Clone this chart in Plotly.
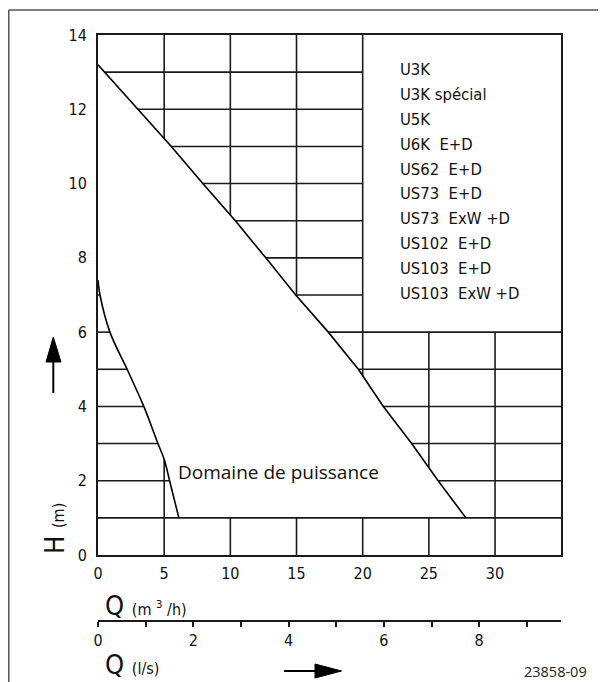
import numpy as np
import plotly.graph_objects as go

# ---------------- data ----------------
q_m3h_ticks = [0, 5, 10, 15, 20, 25, 30]
h_ticks = [0, 2, 4, 6, 8, 10, 12, 14]
q_ls_ticks = [0, 2, 4, 6, 8]

# left limit curve of the operating range (Q in m3/h, H in m)
left_q = [0, 0.15, 0.9, 2.2, 3.46, 4.53, 5.0, 5.41, 6.11]
left_h = [7.4, 7.0, 6.0, 5.0, 4.0, 3.0, 2.58, 2.0, 1.0]
# right limit line of the operating range
right_q = [0, 3.03, 5.54, 7.92, 10.38, 12.68, 14.94, 17.4, 19.67, 21.56, 23.7, 25.7, 27.8]
right_h = [13.2, 12, 11, 10, 9, 8, 7, 6, 5, 4, 3, 2, 1]

models = ["U3K", "U3K spécial", "U5K", "U6K  E+D", "US62  E+D", "US73  E+D",
          "US73  ExW +D", "US102  E+D", "US103  E+D", "US103  ExW +D"]

Q_MAX = 35
H_MAX = 14
H_MIN_RANGE = 1
M3H_PER_LS = 3.6
BOX_Q, BOX_H = 20, 6

# ---------------- geometry helpers ----------------
# the page body has an 8px margin: the figure starts at (8, 8) in the window
OFF = 8
W, H = 606 - OFF, 682 - OFF
def px(x):
    return (x - OFF) / W
def py(y):
    return 1 - (y - OFF) / H

def lq(h):
    return float(np.interp(h, left_h[::-1], left_q[::-1]))
def rq(h):
    return float(np.interp(h, right_h[::-1], right_q[::-1]))
def lh(q):
    return float(np.interp(q, left_q, left_h))
def rh(q):
    return float(np.interp(q, right_q, right_h))

gx, gy = [], []
def seg(x0, y0, x1, y1):
    gx.extend([x0, x1, None])
    gy.extend([y0, y1, None])

for h in range(1, H_MAX):
    if h == H_MIN_RANGE:
        seg(0, h, Q_MAX, h)
        continue
    if h <= max(left_h):
        seg(0, h, lq(h), h)
    end = Q_MAX if h <= BOX_H else BOX_Q
    seg(rq(h), h, end, h)

for q in range(5, Q_MAX, 5):
    top = H_MAX if q <= BOX_Q else BOX_H
    if q <= max(left_q):
        seg(q, 0, q, lh(q))
    elif q <= max(right_q):
        seg(q, 0, q, H_MIN_RANGE)
    if q <= max(right_q):
        seg(q, rh(q), q, top)
    else:
        seg(q, 0, q, top)

DIN = "'DejaVu Sans Condensed', 'Liberation Sans Narrow', sans-serif"
OPEN = "'Open Sans', 'Noto Sans', sans-serif"
INK = "#1a1a1a"

fig = go.Figure()
fig.add_trace(go.Scatter(x=gx, y=gy, mode="lines", line=dict(color=INK, width=1.6),
                         hoverinfo="skip", showlegend=False))
fig.add_trace(go.Scatter(x=left_q, y=left_h, mode="lines", line=dict(color="#000", width=1.6),
                         line_shape="spline", hoverinfo="skip", showlegend=False))
fig.add_trace(go.Scatter(x=right_q, y=right_h, mode="lines", line=dict(color="#000", width=1.6),
                         hoverinfo="skip", showlegend=False))
# invisible trace on the l/s axis
fig.add_trace(go.Scatter(x=[0, Q_MAX / M3H_PER_LS], y=[0, 0], xaxis="x2", mode="markers",
                         marker=dict(opacity=0), hoverinfo="skip", showlegend=False))

x0p, x1p = 98, 561.2
y0p, y1p = 555, 35

fig.update_layout(
    width=W, height=H, margin=dict(l=0, r=0, t=0, b=0, autoexpand=False),
    paper_bgcolor="white", plot_bgcolor="white", showlegend=False,
    xaxis=dict(domain=[px(x0p), px(x1p)], range=[0, Q_MAX], showgrid=False, zeroline=False,
               automargin=False,
               showline=True, mirror=True, linecolor=INK, linewidth=2,
               tickvals=q_m3h_ticks, ticks="outside", ticklen=3, tickcolor="rgba(0,0,0,0)",
               tickfont=dict(family=DIN, size=16, color="#111")),
    yaxis=dict(domain=[py(y0p), py(y1p)], range=[0, H_MAX], showgrid=False, zeroline=False,
               automargin=False,
               showline=True, mirror=True, linecolor=INK, linewidth=2,
               tickvals=h_ticks, ticks="outside", ticklen=6, tickcolor="rgba(0,0,0,0)",
               tickfont=dict(family=DIN, size=16, color="#111")),
    xaxis2=dict(overlaying="x", anchor="free", position=py(621), side="bottom",
                automargin=False,
                domain=[px(x0p), px(x1p)], range=[0, Q_MAX / M3H_PER_LS],
                showgrid=False, zeroline=False, showline=True, linecolor=INK, linewidth=2,
                tickvals=q_ls_ticks, ticks="outside", ticklen=5,
                tickwidth=1.5, tickcolor=INK,
                minor=dict(dtick=1, tick0=0, ticks="outside", ticklen=5, tickwidth=1.5,
                           tickcolor=INK, showgrid=False),
                tickfont=dict(family=DIN, size=16, color="#111")),
)

ann = []
NB = "\u00a0"
for i, m in enumerate(models):
    ann.append(dict(x=22.7, y=13.06 - i * 0.668, xref="x", yref="y", text=m.replace(" ", NB),
                    showarrow=False, xanchor="left", yanchor="middle",
                    font=dict(family=DIN, size=16.5, color="#111")))
ann.append(dict(x=5.87, y=2.24, xref="x", yref="y", text="Domaine de puissance",
                showarrow=False, xanchor="left", yanchor="middle",
                font=dict(family=OPEN, size=19, color="#111")))
ann.append(dict(x=px(103), y=py(605), xref="paper", yref="paper",
                text="Q <span style='font-size:16px'>(m\u00a0<sup>3</sup>\u00a0/h)</span>",
                showarrow=False, xanchor="left", yanchor="middle",
                font=dict(family=DIN, size=27, color="#111")))
ann.append(dict(x=px(103), y=py(664), xref="paper", yref="paper",
                text="Q <span style='font-size:16px'>(l/s)</span>",
                showarrow=False, xanchor="left", yanchor="middle",
                font=dict(family=DIN, size=27, color="#111")))
ann.append(dict(x=px(54), y=py(529), xref="paper", yref="paper", textangle=-90,
                text="H <span style='font-size:16px'>(m)</span>",
                showarrow=False, xanchor="center", yanchor="middle",
                font=dict(family=DIN, size=27, color="#111")))
ann.append(dict(x=px(589), y=py(671), xref="paper", yref="paper", text="23858-09",
                showarrow=False, xanchor="right", yanchor="middle",
                font=dict(family=OPEN, size=14.5, color="#222")))
fig.update_layout(annotations=ann)

shapes = [
    dict(type="line", xref="paper", yref="paper", x0=px(8.75), y0=py(10), x1=1, y1=py(10),
         line=dict(color="#555", width=1.5)),
    dict(type="line", xref="paper", yref="paper", x0=px(8.75), y0=py(10), x1=px(8.75), y1=0,
         line=dict(color="#555", width=1.5)),
    # vertical arrow
    dict(type="line", xref="paper", yref="paper", x0=px(53.3), y0=py(393), x1=px(53.3), y1=py(360),
         line=dict(color="#000", width=2)),
    dict(type="path", xref="paper", yref="paper",
         path=f"M {px(53.3)} {py(337)} L {px(46)} {py(362)} L {px(61)} {py(362)} Z",
         fillcolor="#000", line=dict(color="#000", width=1)),
    # horizontal arrow
    dict(type="line", xref="paper", yref="paper", x0=px(284), y0=py(671), x1=px(318), y1=py(671),
         line=dict(color="#000", width=2)),
    dict(type="path", xref="paper", yref="paper",
         path=f"M {px(341.5)} {py(671)} L {px(315)} {py(664)} L {px(315)} {py(678)} Z",
         fillcolor="#000", line=dict(color="#000", width=1)),
]
fig.update_layout(shapes=shapes)

fig.write_html("out.html")
